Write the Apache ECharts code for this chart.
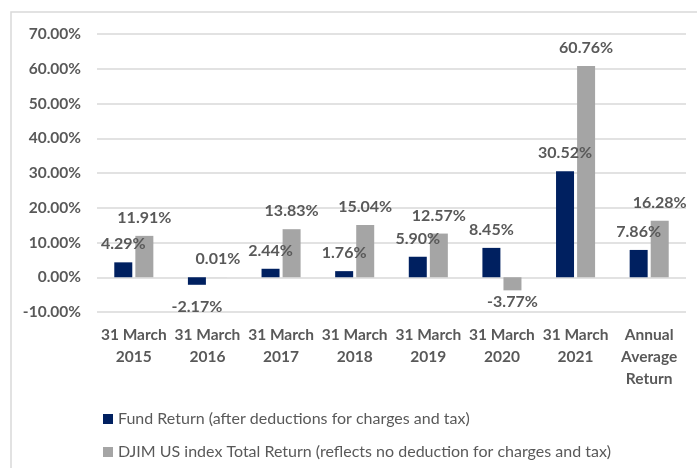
<!DOCTYPE html>
<html><head><meta charset="utf-8">
<script src="https://cdn.jsdelivr.net/npm/echarts@6/dist/echarts.min.js"></script>
<style>html,body{margin:0;padding:0;background:#fff}#c{width:697px;height:468px}</style>
</head><body><div id="c"></div>
<script>
const categories = ['31 March\n2015','31 March\n2016','31 March\n2017','31 March\n2018','31 March\n2019','31 March\n2020','31 March\n2021','Annual\nAverage\nReturn'];
const fundReturn = [4.29, -2.17, 2.44, 1.76, 5.90, 8.45, 30.52, 7.86];
const djimReturn = [11.91, 0.01, 13.83, 15.04, 12.57, -3.77, 60.76, 16.28];
const seriesNames = ['Fund Return (after deductions for charges and tax)', 'DJIM US index Total Return (reflects no deduction for charges and tax)'];
const FONT = 'Lato';
const TXT = '#595959';

function mk(vals, negDist) {
  return vals.map((v, i) => {
    const o = { value: v };
    if (v < 0) o.label = { position: 'bottom', distance: negDist[i] };
    return o;
  });
}
const chart = echarts.init(document.getElementById('c'));
const lbl = { show: true, position: 'top', distance: 10, color: TXT, fontFamily: FONT, fontWeight: 'bold', fontSize: 16,
  formatter: p => p.value.toFixed(2) + '%' };
const legBase = { orient: 'vertical', left: 103, padding: 0, itemWidth: 10, itemHeight: 10, icon: 'rect',
  textStyle: { color: TXT, fontFamily: FONT, fontSize: 16 } };
chart.setOption({
  animation: false,
  graphic: [{ type: 'rect', shape: { x: 11, y: 12, width: 700, height: 470 }, style: { fill: 'none', stroke: '#d9d9d9', lineWidth: 1.5 } }],
  grid: { left: 97, right: 11, top: 34, bottom: 156 },
  legend: [
    Object.assign({}, legBase, { top: 411, data: [seriesNames[0]] }),
    Object.assign({}, legBase, { top: 444, data: [seriesNames[1]] })
  ],
  xAxis: { type: 'category', data: categories,
    axisLine: { show: false, onZero: false }, axisTick: { show: false },
    axisLabel: { color: TXT, fontFamily: FONT, fontWeight: 'bold', fontSize: 15.5, lineHeight: 22, margin: 12, interval: 0 } },
  yAxis: { type: 'value', min: -10, max: 70, interval: 10,
    axisLabel: { color: TXT, fontFamily: FONT, fontWeight: 'bold', fontSize: 15.5, margin: 16, formatter: v => v.toFixed(2) + '%' },
    splitLine: { lineStyle: { color: '#d9d9d9', width: 1.5 } } },
  series: [
    { name: seriesNames[0], type: 'bar', data: mk(fundReturn, [0,14,0,0,0,0,0,0]), itemStyle: { color: '#002060' }, barWidth: 18, barGap: '17%', label: lbl },
    { name: seriesNames[1], type: 'bar', data: mk(djimReturn, [0,0,0,0,0,3,0,0]), itemStyle: { color: '#a5a5a5' }, barWidth: 18, label: lbl }
  ]
});
</script></body></html>
